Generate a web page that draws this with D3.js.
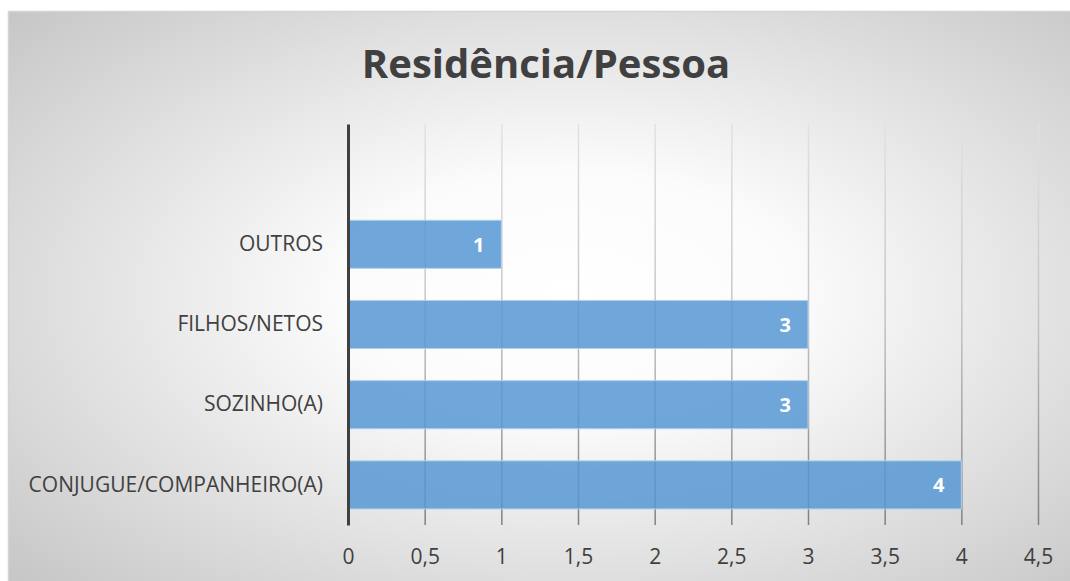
<!DOCTYPE html>
<html><head><meta charset="utf-8">
<script src="https://cdn.jsdelivr.net/npm/d3@7"></script>
<style>html,body{margin:0;padding:0;background:#fff;}svg{display:block;}</style>
</head><body>
<script>
const categories = ["", "OUTROS", "FILHOS/NETOS", "SOZINHO(A)", "CONJUGUE/COMPANHEIRO(A)"];
const values = [null, 1, 3, 3, 4];
const xTicks = [0, 0.5, 1, 1.5, 2, 2.5, 3, 3.5, 4, 4.5];
const title = "Residência/Pessoa";

const W = 1070, H = 581;
const svg = d3.select("body").append("svg").attr("width", W).attr("height", H);
const defs = svg.append("defs");
const rg = defs.append("radialGradient").attr("id", "bg")
  .attr("cx", "52%").attr("cy", "48%").attr("r", "71%");
rg.append("stop").attr("offset", "0%").attr("stop-color", "#ffffff");
rg.append("stop").attr("offset", "30%").attr("stop-color", "#fbfbfb");
rg.append("stop").attr("offset", "100%").attr("stop-color", "#c6c6c6");

const plotTop = 124, plotBottom = 525;
// gradient in the local coordinates of the gridline group (translated to plotBottom)
const lg = defs.append("linearGradient").attr("id", "gridg").attr("gradientUnits", "userSpaceOnUse")
  .attr("x1", 0).attr("x2", 0).attr("y1", plotTop - plotBottom).attr("y2", 0);
lg.append("stop").attr("offset", "0%").attr("stop-color", "#e2e2e2");
lg.append("stop").attr("offset", "50%").attr("stop-color", "#c2c2c2");
lg.append("stop").attr("offset", "100%").attr("stop-color", "#808080");

svg.append("rect").attr("x", 8.5).attr("y", 11.5).attr("width", W + 10).attr("height", H + 10)
  .attr("fill", "url(#bg)").attr("stroke", "#d4d4d4").attr("stroke-width", 1.5);

const font = "'Open Sans', 'Noto Sans', sans-serif";
const x = d3.scaleLinear().domain([0, 4.5]).range([348, 1038]);
const y = d3.scaleBand().domain(categories).range([plotTop, plotBottom]).paddingInner(0.4).paddingOuter(0.2);

svg.append("text").attr("x", 546).attr("y", 78).attr("text-anchor", "middle")
  .attr("font-family", font).attr("font-weight", 700).attr("font-size", 40)
  .attr("fill", "#404040").text(title);

// gridlines (behind semi-transparent bars)
const grid = d3.axisBottom(x).tickValues(xTicks.slice(1)).tickSize(-(plotBottom - plotTop)).tickFormat("");
const gg = svg.append("g").attr("transform", `translate(0,${plotBottom})`).call(grid);
gg.select(".domain").remove();
gg.selectAll("line").attr("stroke", "url(#gridg)").attr("stroke-width", 1.5);

// bars
const data = categories.map((c, i) => ({c, v: values[i]})).filter(d => d.v != null);
svg.append("g").selectAll("rect").data(data).join("rect")
  .attr("x", x(0)).attr("y", d => y(d.c)).attr("width", d => x(d.v) - x(0))
  .attr("height", y.bandwidth()).attr("fill", "#5698d4").attr("fill-opacity", 0.85)
  .attr("stroke", "#b5d0ec").attr("stroke-width", 1);

// x labels
const xa = d3.axisBottom(x).tickValues(xTicks).tickSize(0).tickPadding(24)
  .tickFormat(d => String(d).replace(".", ","));
const xg = svg.append("g").attr("transform", `translate(0,${plotBottom})`).call(xa);
xg.select(".domain").remove();
xg.selectAll("text").attr("font-family", font).attr("font-size", 21).attr("fill", "#404040");

// y axis
const ya = d3.axisLeft(y).tickSize(0).tickPadding(25);
const yg = svg.append("g").attr("transform", `translate(${x(0)},0)`).call(ya);
yg.select(".domain").attr("stroke", "#404040").attr("stroke-width", 3);
yg.selectAll("text").attr("font-family", font).attr("font-size", 21).attr("fill", "#404040");

// value labels
svg.append("g").selectAll("text").data(data).join("text")
  .attr("x", d => x(d.v) - 17).attr("y", d => y(d.c) + y.bandwidth() / 2)
  .attr("dy", "0.36em").attr("text-anchor", "end")
  .attr("font-family", font).attr("font-weight", 700).attr("font-size", 20)
  .attr("fill", "#ffffff").text(d => d.v);
</script>
</body></html>
